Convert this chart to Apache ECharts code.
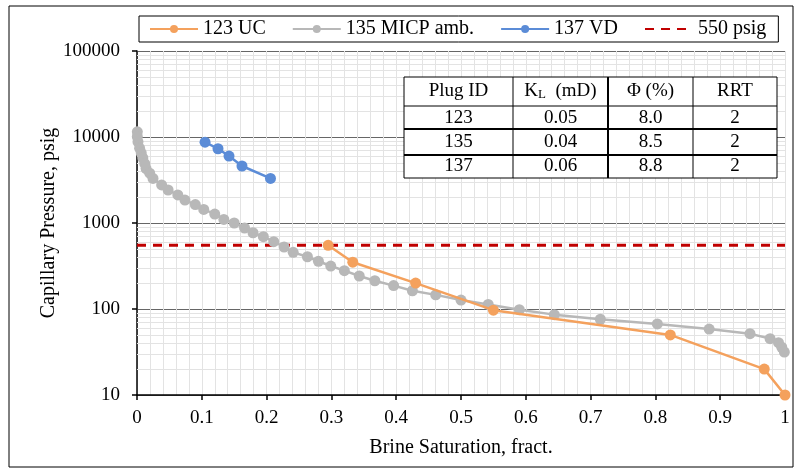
<!DOCTYPE html>
<html><head><meta charset="utf-8">
<script src="https://cdn.jsdelivr.net/npm/echarts@6/dist/echarts.min.js"></script>
<style>html,body{margin:0;padding:0;background:#fff}#c{width:799px;height:472px}</style>
</head><body><div id="c"></div>
<script>
const seriesNames = ['123 UC', '135 MICP amb.', '137 VD', '550 psig'];
const uc123 = [[0.295,550],[0.333,350],[0.43,200],[0.55,97],[0.823,50],[0.968,20],[1.0,10]];
const micp135 = [
  [0.0005,11500],[0.0005,10100],[0.0015,8800],[0.004,7400],[0.0066,6500],[0.009,5700],
  [0.012,4900],[0.014,4300],[0.0196,3800],[0.0247,3300],[0.038,2770],[0.048,2420],
  [0.063,2120],[0.074,1850],[0.090,1640],[0.103,1440],[0.120,1270],[0.134,1100],
  [0.150,1000],[0.166,875],[0.179,770],[0.195,693],[0.211,606],[0.227,526],
  [0.241,456],[0.263,405],[0.280,359],[0.299,316],[0.320,279],[0.343,242],
  [0.367,213],[0.396,187],[0.425,163],[0.461,146],[0.500,127],[0.542,113],
  [0.590,98],[0.644,86],[0.715,76],[0.803,67],[0.883,58.5],[0.946,51.6],
  [0.977,45.2],[0.990,40.6],[0.995,35.9],[0.999,31.6]
];
const vd137 = [[0.105,8700],[0.125,7300],[0.142,6000],[0.162,4600],[0.206,3300]];
const cutoffPsig = 550;
const cutoffX = [0, 1];
const minorGridValues = [20,30,40,50,60,70,80,90,200,300,400,500,600,700,800,900,
  2000,3000,4000,5000,6000,7000,8000,9000,20000,30000,40000,50000,60000,70000,80000,90000];

const tableHeader = ['Plug ID', 'K{sub|L}  (mD)', 'Φ (%)', 'RRT'];
const tablePlug = ['123', '135', '137'];
const tableKL = ['0.05', '0.04', '0.06'];
const tablePhi = ['8.0', '8.5', '8.8'];
const tableRRT = ['2', '2', '2'];

const FONT = "'Liberation Serif', 'Times New Roman', serif";
const cOrange = '#F4A15D', cGrey = '#B8B8B8', cBlue = '#5B8CD7', cRed = '#C00000';

// table graphics
const tX = 404, tY = 77, colX = [0, 109, 204, 289, 373], rowY = [0, 29, 52, 78, 101];
const textRowY = [14, 41, 65, 89.5];
const TZ = 100;
const tableEls = [];
tableEls.push({type:'rect', z:TZ, shape:{x:0,y:0,width:colX[4],height:rowY[4]}, style:{fill:'#fff', stroke:'#000', lineWidth:1}});
for (let i = 1; i < 4; i++) {
  tableEls.push({type:'line', z:TZ+1, shape:{x1:0,y1:rowY[i],x2:colX[4],y2:rowY[i]}, style:{stroke:'#000', lineWidth: i>1?2:1}});
  tableEls.push({type:'line', z:TZ+1, shape:{x1:colX[i],y1:0,x2:colX[i],y2:rowY[4]}, style:{stroke:'#000', lineWidth: i===2?2:1}});
}
const rows = [tableHeader, ...tablePlug.map((p,i)=>[p, tableKL[i], tablePhi[i], tableRRT[i]])];
rows.forEach((r, ri) => r.forEach((t, ci) => {
  tableEls.push({type:'text', z:TZ+2, x:(colX[ci]+colX[ci+1])/2, y:textRowY[ri], style:{
    text:t, font:'19px ' + FONT, fill:'#000', align:'center', verticalAlign:'middle',
    rich:{sub:{fontSize:13, fontFamily:FONT, verticalAlign:'bottom', padding:[8,0,0,0]}}
  }});
}));

const chart = echarts.init(document.getElementById('c'));
chart.setOption({
  animation: false,
  backgroundColor: '#fff',
  textStyle: {fontFamily: FONT},
  grid: {left: 137, right: 14, top: 51, bottom: 77},
  legend: {
    data: [seriesNames[0], seriesNames[1], seriesNames[2],
      {name: seriesNames[3], itemStyle: {opacity: 0}}],
    left: 139, top: 16, padding: [3, 12, 3, 10],
    borderColor: '#000', borderWidth: 1, itemWidth: 48, itemHeight: 10, itemGap: 26,
    textStyle: {fontSize: 20, fontFamily: FONT, color: '#000'}
  },
  xAxis: {
    type: 'value', min: 0, max: 1, interval: 0.1,
    name: 'Brine Saturation, fract.', nameLocation: 'middle', nameGap: 43,
    nameMoveOverlap: false,
    nameTextStyle: {fontSize: 20, fontFamily: FONT, color: '#000'},
    axisLine: {lineStyle: {color: '#000', width: 1.5}},
    axisTick: {show: true, length: 5, lineStyle: {color: '#000', width: 1.5}},
    axisLabel: {fontSize: 19, fontFamily: FONT, color: '#000', margin: 14},
    splitLine: {show: true, lineStyle: {color: '#e3e3e3', width: 1}},
    minorTick: {show: false, splitNumber: 5},
    minorSplitLine: {show: true, lineStyle: {color: '#e3e3e3', width: 1}}
  },
  yAxis: {
    type: 'log', logBase: 10, min: 10, max: 100000,
    name: 'Capillary Pressure, psig', nameLocation: 'middle', nameGap: 78, nameRotate: 90,
    nameMoveOverlap: false,
    nameTextStyle: {fontSize: 20, fontFamily: FONT, color: '#000'},
    axisLine: {show: true, lineStyle: {color: '#000', width: 1.5}},
    axisTick: {show: true, length: 5, lineStyle: {color: '#000', width: 1.5}},
    axisLabel: {fontSize: 19, fontFamily: FONT, color: '#000', margin: 17,
      formatter: v => String(Math.round(v))},
    splitLine: {show: true, lineStyle: {color: '#666', width: 1}},
    minorSplitLine: {show: false}
  },
  graphic: [
    {type:'rect', shape:{x:9, y:6, width:784, height:461}, style:{fill:'none', stroke:'#000', lineWidth:1}, z:-10, silent:true},
    {type:'group', x:tX, y:tY, z:TZ, children: tableEls}
  ],
  series: [
    {
      name: '_grid', type: 'line', data: [], silent: true, z: 1,
      markLine: {silent: true, symbol: ['none','none'], label: {show: false}, z: 1,
        lineStyle: {color: '#e3e3e3', width: 1, type: 'solid'},
        data: minorGridValues.map(v => ({yAxis: v}))}
    },
    {
      name: seriesNames[0], type: 'line', data: uc123, symbol: 'circle', symbolSize: 11,
      itemStyle: {color: cOrange}, lineStyle: {color: cOrange, width: 2.5}, z: 4
    },
    {
      name: seriesNames[1], type: 'line', data: micp135, symbol: 'circle', symbolSize: 11,
      itemStyle: {color: cGrey}, lineStyle: {color: cGrey, width: 2.5}, z: 3
    },
    {
      name: seriesNames[2], type: 'line', data: vd137, symbol: 'circle', symbolSize: 11,
      itemStyle: {color: cBlue}, lineStyle: {color: cBlue, width: 2.5}, z: 5
    },
    {
      name: seriesNames[3], type: 'line', data: cutoffX.map(x => [x, cutoffPsig]),
      symbol: 'none', itemStyle: {color: cRed},
      lineStyle: {color: cRed, width: 3, type: [9, 7]}, z: 2
    }
  ]
});
</script></body></html>
